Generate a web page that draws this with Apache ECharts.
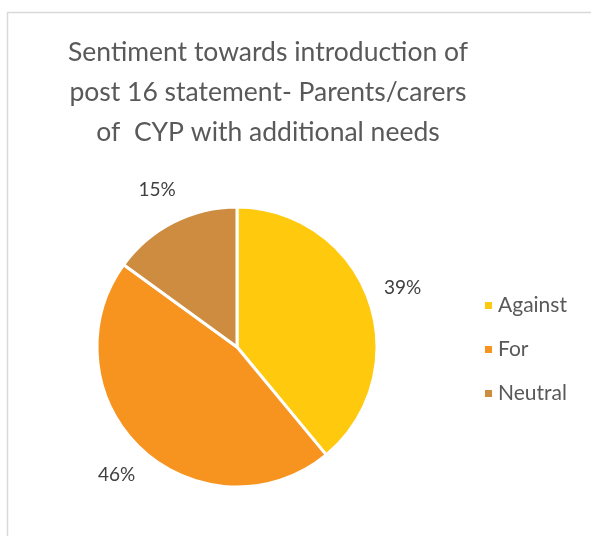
<!DOCTYPE html>
<html>
<head>
<meta charset="utf-8">
<script src="https://cdn.jsdelivr.net/npm/echarts@6/dist/echarts.min.js"></script>
<style>
  html, body { margin: 0; padding: 0; background: #fff; }
  #chart { width: 591px; height: 536px; }
</style>
</head>
<body>
<div id="chart"></div>
<script>
// Survey answers and their shares (percent)
const categories = ['Against', 'For', 'Neutral'];
const shares = [39, 46, 15];
const sliceColors = ['#FFC90E', '#F7941F', '#CD8C40'];
const chartTitle = 'Sentiment towards introduction of\npost 16 statement- Parents/carers\nof  CYP with additional needs';

const font = 'Lato, "Open Sans", sans-serif';
const chart = echarts.init(document.getElementById('chart'), null, { renderer: 'canvas' });

// Extra distance beyond the rim at which each percentage label is centred
const labelGap = 36;

// Centre each label on the slice's bisector, just outside the rim
function placeLabel(params) {
  const series = chart.getModel() && chart.getModel().getSeriesByIndex(0);
  if (!series) return {};
  const lay = series.getData().getItemLayout(params.dataIndex);
  if (!lay) return {};
  const mid = (lay.startAngle + lay.endAngle) / 2;
  const dist = lay.r + labelGap;
  return {
    x: lay.cx + Math.cos(mid) * dist,
    y: lay.cy + Math.sin(mid) * dist,
    align: 'center',
    verticalAlign: 'middle'
  };
}

chart.setOption({
  animation: false,
  backgroundColor: '#ffffff',
  color: sliceColors,
  title: {
    text: chartTitle,
    left: 263,
    top: 27,
    textAlign: 'center',
    textStyle: {
      fontFamily: font,
      fontSize: 26.5,
      fontWeight: 'normal',
      lineHeight: 40,
      color: '#595959'
    }
  },
  legend: {
    orient: 'vertical',
    left: 478,
    top: 290,
    icon: 'rect',
    itemWidth: 9,
    itemHeight: 9,
    itemGap: 23,
    textStyle: { fontFamily: font, fontSize: 21, color: '#595959' },
    data: categories
  },
  graphic: [{
    type: 'rect',
    shape: { x: 7.5, y: 12.5, width: 700, height: 700 },
    style: { fill: 'none', stroke: '#d9d9d9', lineWidth: 1.5 },
    silent: true
  }],
  series: [{
    type: 'pie',
    center: [237, 347],
    radius: 140,
    startAngle: 90,
    clockwise: true,
    itemStyle: { borderColor: '#ffffff', borderWidth: 3 },
    label: {
      show: true,
      position: 'outside',
      formatter: '{c}%',
      fontFamily: font,
      fontSize: 19,
      color: '#404040'
    },
    labelLine: { show: false },
    labelLayout: placeLabel,
    data: categories.map((name, i) => ({ name: name, value: shares[i] }))
  }]
});
</script>
</body>
</html>
